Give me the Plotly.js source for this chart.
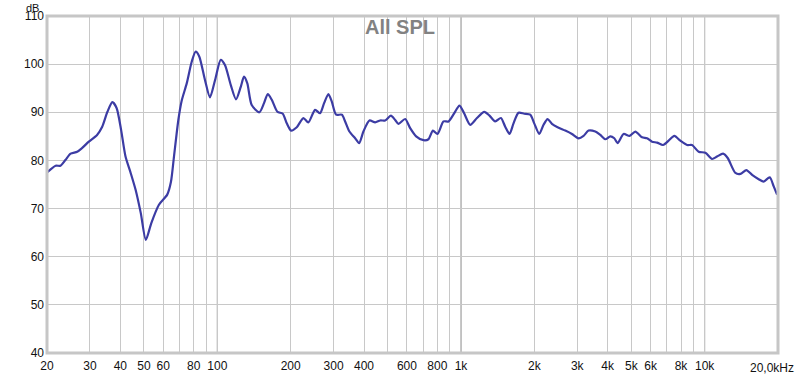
<!DOCTYPE html>
<html>
<head>
<meta charset="utf-8">
<script src="https://cdn.plot.ly/plotly-3.0.1.min.js"></script>
<style>html,body{margin:0;padding:0;background:#fff;}#chart{width:800px;height:374px;}</style>
</head>
<body>
<div id="chart"></div>
<script>
const freqHz = [20, 21.7, 22.7, 23.8, 25, 26.6, 27.9, 29.7, 32.1, 33.7, 35.4, 37.1, 38.6, 40.3, 42, 44.1, 46.2, 48.5, 50.9, 53.6, 57.6, 62.3, 64.5, 66.4, 69.2, 71.4, 74.9, 78.5, 81.5, 84.3, 89, 93.3, 97.9, 103.3, 107.5, 113.5, 119.3, 124.8, 128.7, 132.8, 138.4, 148.8, 155.5, 161.1, 167.3, 176.4, 185.6, 192.8, 200.8, 211.9, 225.5, 236.4, 251.9, 264, 274.3, 285.7, 295, 307.3, 324.3, 334.6, 348.5, 367.8, 381.9, 397.7, 421, 444.4, 465.9, 488.4, 515.5, 536.9, 553.9, 590.1, 618.7, 654.6, 701.5, 735.5, 766.8, 800.9, 847.6, 888.8, 937.9, 986, 1030, 1091, 1163, 1246, 1309, 1382, 1458, 1519, 1582, 1643, 1722, 1818, 1924, 1998, 2095, 2182, 2266, 2362, 2491, 2679, 2854, 3038, 3185, 3339, 3558, 3730, 3910, 4100, 4258, 4393, 4649, 4920, 5194, 5534, 5800, 6081, 6376, 6749, 7115, 7508, 7948, 8470, 8878, 9450, 10070, 10725, 11242, 11901, 12432, 13370, 14016, 14838, 15658, 16665, 17472, 18495, 19206, 19831];
const splDb = [77.5, 78.9, 78.9, 80.1, 81.4, 81.8, 82.6, 83.9, 85.3, 87.0, 90.1, 92.1, 90.9, 86.3, 80.8, 77.4, 73.9, 69.1, 63.5, 67.0, 70.8, 72.9, 75.5, 80.8, 88.4, 92.4, 96.0, 100.5, 102.6, 101.6, 96.7, 93.1, 96.7, 100.9, 99.8, 95.7, 92.7, 95.3, 97.4, 96.0, 91.5, 90.0, 91.9, 93.8, 92.6, 90.1, 89.7, 87.7, 86.2, 86.9, 88.8, 87.9, 90.5, 89.8, 91.9, 93.8, 92.2, 89.5, 89.5, 88.1, 86.0, 84.6, 83.6, 86.0, 88.3, 87.9, 88.3, 88.3, 89.3, 88.4, 87.6, 88.6, 86.7, 85.0, 84.2, 84.4, 86.2, 85.5, 88.1, 88.1, 89.8, 91.4, 89.8, 87.4, 88.8, 90.1, 89.3, 88.1, 88.8, 87.0, 85.5, 87.7, 89.9, 89.7, 89.5, 87.7, 85.5, 87.4, 88.6, 87.6, 86.9, 86.2, 85.5, 84.6, 85.1, 86.2, 86.0, 85.3, 84.4, 85.0, 84.6, 83.6, 85.5, 85.1, 86.0, 84.8, 84.6, 83.9, 83.7, 83.2, 84.1, 85.1, 84.1, 83.2, 83.2, 81.8, 81.6, 80.3, 80.8, 81.4, 80.5, 77.4, 77.2, 78.0, 77.0, 76.1, 75.6, 76.5, 74.6, 72.9];

const xTickVals = [20, 30, 40, 50, 60, 80, 100, 200, 300, 400, 600, 800, 1000, 2000, 3000, 4000, 5000, 6000, 8000, 10000];
const xTickText = ["20", "30", "40", "50", "60", "80", "100", "200", "300", "400", "600", "800", "1k", "2k", "3k", "4k", "5k", "6k", "8k", "10k"];
const xEndLabel = {value: 20000, text: "20,0kHz"};
const xMinorGrid = [70, 90, 500, 700, 900, 7000, 9000];
const decadeLines = [100, 1000, 10000];
const yTickVals = [40, 50, 60, 70, 80, 90, 100, 110];

const shapes = decadeLines.map(v => ({
  type: 'line', xref: 'x', yref: 'paper', x0: v, x1: v, y0: 0, y1: 1,
  line: {color: '#7c7c7c', width: 1}, layer: 'below'
}));
shapes.push({type: 'rect', xref: 'paper', yref: 'paper', x0: 0, x1: 1, y0: 0, y1: 1,
  line: {color: '#c6c6c6', width: 3}, layer: 'above'});

const trace = {
  x: freqHz, y: splDb, type: 'scatter', mode: 'lines',
  line: {color: '#3c3ca4', width: 2.2, shape: 'spline', smoothing: 0.7},
  hoverinfo: 'skip'
};

const layout = {
  width: 800, height: 374,
  margin: {l: 47, r: 22, t: 16, b: 21},
  paper_bgcolor: '#ffffff', plot_bgcolor: '#ffffff',
  showlegend: false,
  font: {family: 'Arial, "Liberation Sans", sans-serif', size: 12, color: '#111'},
  title: {text: '<b>All SPL</b>', x: 0.5, xanchor: 'center', y: 0.928, yanchor: 'middle', yref: 'container',
          font: {size: 20, color: '#828282', family: 'Arial, "Liberation Sans", sans-serif'}},
  xaxis: {
    type: 'log', range: [Math.log10(20), Math.log10(20000)],
    tickmode: 'array', tickvals: xTickVals, ticktext: xTickText,
    showgrid: true, gridcolor: '#c8c8c8', gridwidth: 1,
    minor: {tickmode: 'array', tickvals: xMinorGrid, showgrid: true, gridcolor: '#c8c8c8', gridwidth: 1, ticks: ''},
    ticks: '', zeroline: false, showline: false, fixedrange: true,
    ticklabelstandoff: 4,
    tickfont: {size: 12, color: '#111'}
  },
  yaxis: {
    range: [40, 110], tickmode: 'array', tickvals: yTickVals,
    showgrid: true, gridcolor: '#c8c8c8', gridwidth: 1,
    ticks: '', zeroline: false, showline: false, fixedrange: true,
    ticklabelstandoff: 2,
    tickfont: {size: 12, color: '#111'}
  },
  shapes: shapes,
  annotations: [
    {text: 'dB', xref: 'paper', yref: 'paper', x: 0, y: 1, xshift: -6, yshift: 16,
     xanchor: 'right', yanchor: 'top', showarrow: false, font: {size: 11, color: '#111'}},
    {text: xEndLabel.text, xref: 'x', yref: 'paper', x: Math.log10(xEndLabel.value), y: 0, xshift: -6, yshift: -6,
     xanchor: 'center', yanchor: 'top', showarrow: false, font: {size: 12, color: '#111'}}
  ]
};

Plotly.newPlot('chart', [trace], layout, {staticPlot: true, displayModeBar: false});
</script>
</body>
</html>
